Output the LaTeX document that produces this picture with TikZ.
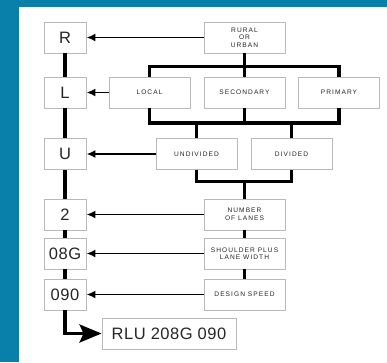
\documentclass[tikz,border=0pt]{standalone}
\usepackage{fontspec}
\setmainfont{Liberation Sans}
\newfontfamily\capsfont[LetterSpace=16]{Liberation Sans}
\newfontfamily\codefont[LetterSpace=3]{Liberation Sans}
\usetikzlibrary{arrows.meta}

\definecolor{frameblue}{RGB}{8,128,170}
\definecolor{boxgray}{RGB}{185,185,185}
\definecolor{textgray}{RGB}{35,35,35}

\tikzset{
  codebox/.style={draw=boxgray,line width=0.9pt,fill=white,minimum width=42pt,
    minimum height=31pt,inner sep=0pt,text=black!85,font=\codefont\fontsize{16.5}{19}\selectfont},
  fieldbox/.style={draw=boxgray,line width=0.9pt,fill=white,minimum width=81pt,
    minimum height=31pt,inner sep=0pt,align=center,text=textgray,
    font=\capsfont\fontsize{6.6}{7.6}\selectfont},
  tie/.style={line width=3.2pt},
  pointer/.style={line width=1.8pt,-{Latex[length=9pt,width=8pt]}},
  result/.style={line width=3.2pt,-{Stealth[length=22pt,width=18pt,inset=4pt]}}
}

\begin{document}
\begin{tikzpicture}[x=1pt,y=-1pt]

% frame
\useasboundingbox (0,0) rectangle (387,362);
\fill[frameblue] (0,0) rectangle (387,362);
\fill[white] (19,7) rectangle (387,362);

% code column
\node[codebox] (cR)   at (65,37.5)  {R};
\node[codebox] (cL)   at (65,92.5)  {L};
\node[codebox] (cU)   at (65,154)   {U};
\node[codebox] (c2)   at (65,214.5) {2};
\node[codebox] (c08G) at (65,253.5) {08G};
\node[codebox] (c090) at (65,294.5) {090};

% field boxes
\node[fieldbox] (rural)     at (244.5,37.5)  {RURAL\\OR\\URBAN};
\node[fieldbox] (local)     at (149.5,92.5)  {LOCAL};
\node[fieldbox] (secondary) at (244.5,92.5)  {SECONDARY};
\node[fieldbox] (primary)   at (339,92.5)    {PRIMARY};
\node[fieldbox] (undivided) at (196.5,154)   {UNDIVIDED};
\node[fieldbox] (divided)   at (291.5,154)   {DIVIDED};
\node[fieldbox] (lanes)     at (244.5,214.5) {NUMBER\\OF LANES};
\node[fieldbox] (shoulder)  at (244.5,253.5) {SHOULDER PLUS\\LANE WIDTH};
\node[fieldbox] (speed)     at (244.5,294.5) {DESIGN SPEED};

\node[codebox,minimum width=134pt] (final) at (169,333.5) {RLU 208G 090};

% bars
\coordinate (bar1) at (0,66.5);
\coordinate (bar2) at (0,123);
\coordinate (bar3) at (0,181.5);

\draw[tie] (rural.south) -- (secondary.north);
\draw[tie] (local.north) -- (local.north |- bar1) -- (primary.north |- bar1) -- (primary.north);
\draw[tie] (secondary.south) -- (secondary.south |- bar2);
\draw[tie] (local.south) -- (local.south |- bar2) -- (primary.south |- bar2) -- (primary.south);
\draw[tie] (undivided.north |- bar2) -- (undivided.north);
\draw[tie] (divided.north |- bar2) -- (divided.north);
\draw[tie] (undivided.south) -- (undivided.south |- bar3) -- (divided.south |- bar3) -- (divided.south);
\draw[tie] (lanes.north |- bar3) -- (lanes.north);
\draw[tie] (lanes) -- (shoulder);
\draw[tie] (shoulder) -- (speed);

% code column links
\draw[tie] (cR) -- (cL);
\draw[tie] (cL) -- (cU);
\draw[tie] (cU) -- (c2);
\draw[tie] (c2) -- (c08G);
\draw[tie] (c08G) -- (c090);

% pointers
\draw[pointer] (rural.west) -- (cR.east);
\draw[pointer] (local.west) -- (cL.east);
\draw[pointer] (undivided.west) -- (cU.east);
\draw[pointer] (lanes.west) -- (c2.east);
\draw[pointer] (shoulder.west) -- (c08G.east);
\draw[pointer] (speed.west) -- (c090.east);

\draw[result] (c090.south) |- (final.west);
\end{tikzpicture}
\end{document}
